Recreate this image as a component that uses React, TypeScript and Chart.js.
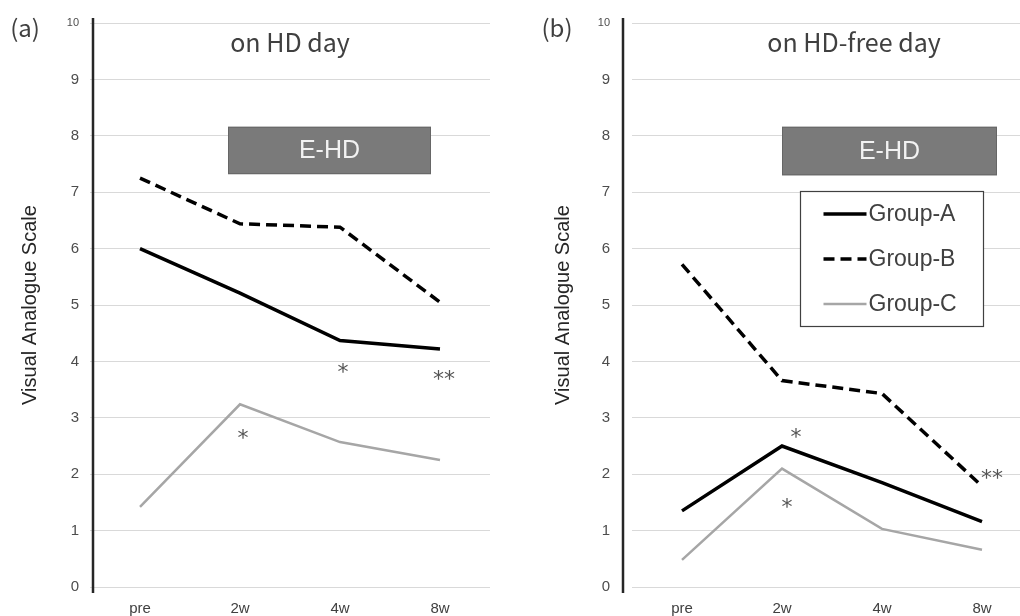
import React, { useEffect, useRef } from "react";
import { Chart, registerables } from "chart.js";

Chart.register(...registerables);

const categories = ["pre", "2w", "4w", "8w"];
const seriesLabels = ["Group-A", "Group-B", "Group-C"];

const hdDayA = [6.0, 5.21, 4.37, 4.22];
const hdDayB = [7.25, 6.44, 6.38, 5.05];
const hdDayC = [1.42, 3.24, 2.57, 2.25];

const freeDayA = [1.35, 2.5, 1.85, 1.16];
const freeDayB = [5.72, 3.66, 3.43, 1.79];
const freeDayC = [0.48, 2.1, 1.03, 0.66];

// significance marks: [category position, value, text]
const hdDayMarks: [number, number, string][] = [
  [1.03, 2.73, "*"],
  [2.03, 3.9, "*"],
  [3.04, 3.79, "**"],
];
const freeDayMarks: [number, number, string][] = [
  [1.14, 2.75, "*"],
  [1.05, 1.51, "*"],
  [3.1, 2.02, "**"],
];

const SANS = "'Liberation Sans', Arial, sans-serif";
const JP = "'Noto Sans CJK JP', 'Noto Sans', sans-serif";

function xAt(chart: any, idx: number) {
  const x = chart.scales.x;
  const p0 = x.getPixelForValue(0);
  const p1 = x.getPixelForValue(1);
  return p0 + idx * (p1 - p0);
}

const decorPlugin = {
  id: "decor",
  afterDraw(chart: any, _args: any, opts: any) {
    const { ctx, chartArea } = chart;
    const y = chart.scales.y;
    ctx.save();
    // vertical axis line
    ctx.strokeStyle = "#262626";
    ctx.lineWidth = 2.5;
    ctx.beginPath();
    const ax = chartArea.left + opts.axisOffset;
    ctx.moveTo(ax, chartArea.top - 5);
    ctx.lineTo(ax, chartArea.bottom + 6);
    ctx.stroke();

    // panel label
    ctx.fillStyle = "#404040";
    ctx.font = `24px ${JP}`;
    ctx.textAlign = "center";
    ctx.textBaseline = "middle";
    ctx.fillText(opts.label, opts.labelX, 28);

    // title
    ctx.font = `25px ${JP}`;
    ctx.fillText(opts.title, xAt(chart, opts.titleAt[0]), y.getPixelForValue(opts.titleAt[1]));

    // E-HD box
    const b = opts.box;
    const bx0 = xAt(chart, b.from);
    const bx1 = xAt(chart, b.to);
    const by0 = y.getPixelForValue(b.top);
    const by1 = y.getPixelForValue(b.bottom);
    ctx.fillStyle = "#7a7a7a";
    ctx.fillRect(bx0, by0, bx1 - bx0, by1 - by0);
    ctx.strokeStyle = "#666666";
    ctx.lineWidth = 1;
    ctx.strokeRect(bx0 + 0.5, by0 + 0.5, bx1 - bx0 - 1, by1 - by0 - 1);
    ctx.fillStyle = "#f2f2f2";
    ctx.font = `25px ${SANS}`;
    ctx.fillText(b.text, (bx0 + bx1) / 2, (by0 + by1) / 2 + 1);

    // significance marks
    ctx.fillStyle = "#555555";
    ctx.font = `22px 'DejaVu Sans', sans-serif`;
    ctx.textBaseline = "alphabetic";
    for (const [idx, val, txt] of opts.marks) {
      ctx.fillText(txt, xAt(chart, idx), y.getPixelForValue(val) + 22 * 0.56);
    }

    // legend
    if (opts.legend) {
      const L = opts.legend;
      const lx0 = Math.round(xAt(chart, L.from)) + 0.5;
      const lx1 = Math.round(xAt(chart, L.to)) + 0.5;
      const ly0 = Math.round(y.getPixelForValue(L.top)) + 0.5;
      const ly1 = Math.round(y.getPixelForValue(L.bottom)) + 0.5;
      ctx.fillStyle = "#ffffff";
      ctx.fillRect(lx0, ly0, lx1 - lx0, ly1 - ly0);
      ctx.strokeStyle = "#404040";
      ctx.lineWidth = 1.2;
      ctx.strokeRect(lx0, ly0, lx1 - lx0, ly1 - ly0);
      const rowH = (ly1 - ly0) / chart.data.datasets.length;
      chart.data.datasets.forEach((ds: any, i: number) => {
        const cy = ly0 + rowH * (i + 0.5);
        ctx.beginPath();
        ctx.strokeStyle = ds.borderColor;
        ctx.lineWidth = ds.borderWidth;
        ctx.setLineDash(ds.borderDash || []);
        ctx.moveTo(lx0 + 23, cy);
        ctx.lineTo(lx0 + 66, cy);
        ctx.stroke();
        ctx.setLineDash([]);
        ctx.fillStyle = "#404040";
        ctx.font = `23px ${SANS}`;
        ctx.textAlign = "left";
        ctx.textBaseline = "middle";
        ctx.fillText(ds.label, lx0 + 68, cy + 1);
      });
    }
    ctx.restore();
  },
};

function makeConfig(a: number[], b: number[], c: number[], yWidth: number, tickPad: number, titlePad: number, padRight: number, decor: any) {
  return {
    type: "line" as const,
    data: {
      labels: categories,
      datasets: [
        { label: seriesLabels[0], data: a, borderColor: "#000000", borderWidth: 3.5, pointRadius: 0, tension: 0, borderCapStyle: "butt" },
        { label: seriesLabels[1], data: b, borderColor: "#000000", borderWidth: 3.5, borderDash: [11, 6], pointRadius: 0, tension: 0, borderCapStyle: "butt" },
        { label: seriesLabels[2], data: c, borderColor: "#a6a6a6", borderWidth: 2.5, pointRadius: 0, tension: 0, borderCapStyle: "butt" },
      ],
    },
    options: {
      responsive: false,
      animation: false,
      layout: { padding: { left: 0, top: 23, right: padRight, bottom: 0 } },
      plugins: {
        legend: { display: false },
        tooltip: { enabled: false },
        decor,
      },
      scales: {
        x: {
          offset: true,
          grid: { display: false, drawTicks: false },
          border: { display: false },
          ticks: { color: "#404040", font: { family: SANS, size: 15 }, padding: 13, maxRotation: 0 },
          afterFit: (s: any) => { s.height = 29; },
        },
        y: {
          min: 0,
          max: 10,
          ticks: {
            stepSize: 1,
            color: "#4d4d4d",
            padding: tickPad,
            font: (ctx: any) => ({ family: SANS, size: ctx.tick && ctx.tick.value === 10 ? 11 : 15, lineHeight: 0.05 }),
          },
          grid: { color: "#d9d9d9", lineWidth: 1, drawTicks: false },
          border: { display: false },
          title: {
            display: true,
            text: "Visual Analogue Scale",
            color: "#262626",
            font: { family: SANS, size: 20 },
            padding: { top: titlePad, bottom: 0 },
          },
          afterFit: (s: any) => { s.width = yWidth; },
        },
      },
    },
    plugins: [decorPlugin],
  };
}

export default function App() {
  const leftRef = useRef<HTMLCanvasElement>(null);
  const rightRef = useRef<HTMLCanvasElement>(null);

  useEffect(() => {
    const left = new Chart(
      leftRef.current as HTMLCanvasElement,
      makeConfig(hdDayA, hdDayB, hdDayC, 90, 11, 18, 20, {
        axisOffset: 3,
        label: "(a)",
        labelX: 25,
        title: "on HD day",
        titleAt: [1.5, 9.65],
        box: { from: 0.88, to: 2.91, top: 8.16, bottom: 7.32, text: "E-HD" },
        marks: hdDayMarks,
      }) as any
    );
    const right = new Chart(
      rightRef.current as HTMLCanvasElement,
      makeConfig(freeDayA, freeDayB, freeDayC, 122, 22, 41, 8, {
        axisOffset: -9,
        label: "(b)",
        labelX: 47,
        title: "on HD-free day",
        titleAt: [1.72, 9.65],
        box: { from: 1.0, to: 3.15, top: 8.16, bottom: 7.3, text: "E-HD" },
        marks: freeDayMarks,
        legend: { from: 1.18, to: 3.01, top: 7.02, bottom: 4.62 },
      }) as any
    );
    return () => {
      left.destroy();
      right.destroy();
    };
  }, []);

  return (
    <div style={{ position: "absolute", left: 0, top: 0, width: 1020, height: 616, overflow: "hidden", background: "#ffffff" }}>
      <div style={{ position: "absolute", left: 0, top: 0 }}>
        <canvas ref={leftRef} width={510} height={616} style={{ display: "block" }} />
      </div>
      <div style={{ position: "absolute", left: 510, top: 0 }}>
        <canvas ref={rightRef} width={530} height={616} style={{ display: "block" }} />
      </div>
    </div>
  );
}
